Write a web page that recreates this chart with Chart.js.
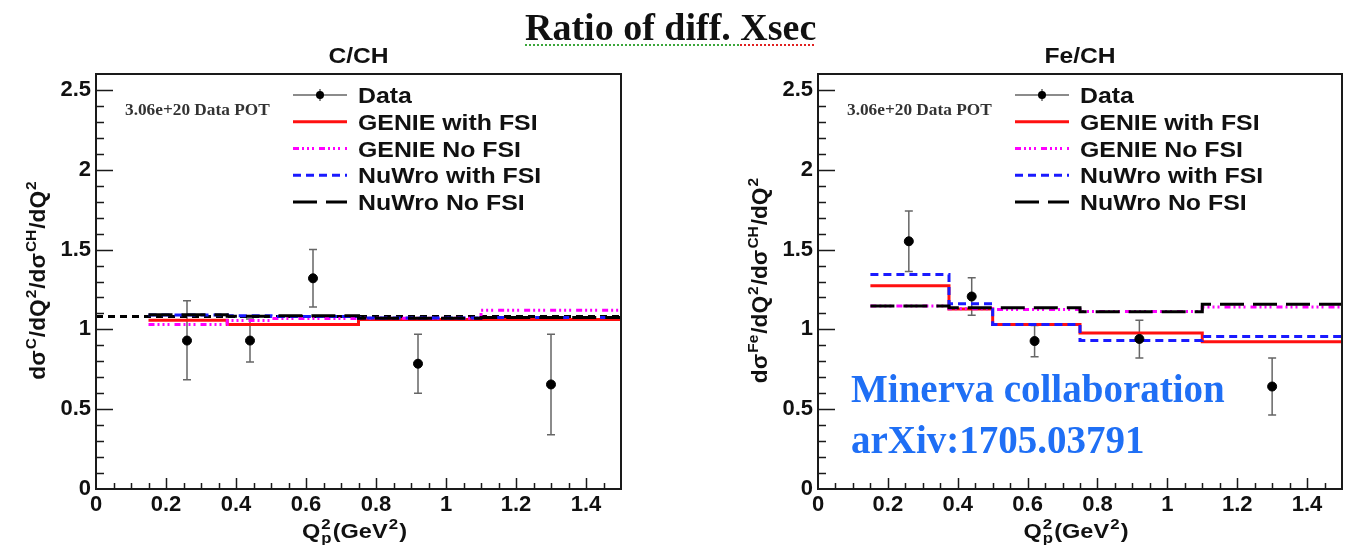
<!DOCTYPE html>
<html>
<head>
<meta charset="utf-8">
<script src="https://cdn.jsdelivr.net/npm/chart.js@4.4.0/dist/chart.umd.min.js"></script>
<style>
  html, body { margin: 0; padding: 0; background: #fff; width: 1359px; height: 545px; overflow: hidden; }
  #wrap { position: relative; width: 1359px; height: 545px; }
  canvas { position: absolute; top: 0; }
  #cC { left: 0; }
  #cFe { left: 680px; }
  #title {
    position: absolute; left: 525px; top: 8px; z-index: 2; white-space: nowrap;
    font: bold 38px/38px "Liberation Serif", "Times New Roman", serif; color: #111;
  }
  #title .g { text-decoration: underline dotted #3aa63a; text-decoration-thickness: 2px; text-underline-offset: 4px; }
  #title .r { text-decoration: underline dotted #e02020; text-decoration-thickness: 2px; text-underline-offset: 4px; }
</style>
</head>
<body>
<div id="wrap">
  <canvas id="cC" width="680" height="545"></canvas>
  <canvas id="cFe" width="679" height="545"></canvas>
  <div id="title"><span class="g">Ratio of diff. </span><span class="r">Xsec</span></div>
</div>
<script>
  const SANS = '"Liberation Sans", Arial, Helvetica, sans-serif';
  const SERIF = '"Liberation Serif", "Times New Roman", serif';

  // binning shared by both ratios (Q2 in GeV^2)
  const Q2_BIN_EDGES = [0.15, 0.375, 0.5, 0.75, 1.1, 1.5];
  const DATA_Q2 = [0.26, 0.44, 0.62, 0.92, 1.30];
  const SERIES_LABELS = ['Data', 'GENIE with FSI', 'GENIE No FSI', 'NuWro with FSI', 'NuWro No FSI'];

  // C/CH
  const cRatio = [0.93, 0.93, 1.32, 0.785, 0.655];
  const cErrLow = [0.685, 0.795, 1.14, 0.60, 0.34];
  const cErrHigh = [1.18, 1.065, 1.50, 0.97, 0.97];
  const cGenieFsi = [1.058, 1.03, 1.03, 1.062, 1.062];
  const cGenieNoFsi = [1.03, 1.055, 1.068, 1.07, 1.12];
  const cNuwroFsi = [1.09, 1.085, 1.08, 1.072, 1.075];
  const cNuwroNoFsi = [1.092, 1.082, 1.085, 1.07, 1.075];
  const cNormQ2 = [0, 1.5];
  const cNormRatio = [1.081, 1.081];

  // Fe/CH
  const feRatio = [1.552, 1.206, 0.927, 0.94, 0.642];
  const feErrLow = [1.362, 1.088, 0.829, 0.821, 0.463];
  const feErrHigh = [1.742, 1.323, 1.025, 1.058, 0.821];
  const feGenieFsi = [1.273, 1.127, 1.031, 0.978, 0.923];
  const feGenieNoFsi = [1.146, 1.13, 1.125, 1.112, 1.14];
  const feNuwroFsi = [1.344, 1.16, 1.031, 0.93, 0.956];
  const feNuwroNoFsi = [1.146, 1.136, 1.136, 1.11, 1.158];

  const POT_NOTE = '3.06e+20 Data POT';

  // histogram bins -> points for a stepped line (right edge repeats last bin)
  function stepPoints (vals) {
    const pts = vals.map((v, i) => ({ x: Q2_BIN_EDGES[i], y: v }));
    pts.push({ x: Q2_BIN_EDGES[Q2_BIN_EDGES.length - 1], y: vals[vals.length - 1] });
    return pts;
  }

  // text with a slight horizontal stretch, like the scanned plot
  function stretchText (ctx, str, x, y, font, align, sx) {
    ctx.save();
    ctx.font = font;
    const w = ctx.measureText(str).width * sx;
    const x0 = align === 'center' ? x - w / 2 : align === 'right' ? x - w : x;
    ctx.translate(x0, y);
    ctx.scale(sx, 1);
    ctx.textAlign = 'left';
    ctx.fillText(str, 0, 0);
    ctx.restore();
    return w;
  }

  // parts: strings, or {sup, sub} for raised / lowered small text
  function drawRich (ctx, parts, x, y, size, sx) {
    const big = `bold ${size}px ${SANS}`;
    const small = `bold ${Math.round(size * 0.7)}px ${SANS}`;
    const runs = [];
    let w = 0;
    parts.forEach(p => {
      if (typeof p === 'string') {
        ctx.font = big;
        runs.push({ t: p, f: big, x: w, dy: 0 });
        w += ctx.measureText(p).width;
      } else {
        ctx.font = small;
        let adv = 0;
        if (p.sup) { runs.push({ t: p.sup, f: small, x: w + 1, dy: -size * 0.42 }); adv = Math.max(adv, ctx.measureText(p.sup).width); }
        if (p.sub) { runs.push({ t: p.sub, f: small, x: w + 1, dy: size * 0.25 }); adv = Math.max(adv, ctx.measureText(p.sub).width); }
        w += adv + 2;
      }
    });
    ctx.save();
    ctx.translate(x - (w * sx) / 2, y);
    ctx.scale(sx, 1);
    ctx.textAlign = 'left';
    runs.forEach(r => { ctx.font = r.f; ctx.fillText(r.t, r.x, r.dy); });
    ctx.restore();
  }

  function panelPlugin (spec) {
    return {
      id: 'rootPanel',
      beforeDatasetsDraw (chart) {
        const { ctx, scales: { x, y } } = chart;
        chart.data.datasets.forEach(ds => {
          if (!ds.errLow) return;
          ctx.save();
          ctx.strokeStyle = '#666';
          ctx.lineWidth = 1.5;
          ctx.beginPath();
          ds.data.forEach((p, i) => {
            const px = x.getPixelForValue(p.x);
            const lo = y.getPixelForValue(ds.errLow[i]);
            const hi = y.getPixelForValue(ds.errHigh[i]);
            ctx.moveTo(px, lo); ctx.lineTo(px, hi);
            ctx.moveTo(px - 4, lo); ctx.lineTo(px + 4, lo);
            ctx.moveTo(px - 4, hi); ctx.lineTo(px + 4, hi);
          });
          ctx.stroke();
          ctx.restore();
        });
      },
      afterDraw (chart) {
        const { ctx, chartArea: a, scales: { x, y } } = chart;
        ctx.save();
        // frame + inward ticks (ROOT style)
        ctx.strokeStyle = '#1a1a1a';
        ctx.lineWidth = 2;
        ctx.strokeRect(a.left, a.top, a.right - a.left, a.bottom - a.top);
        ctx.lineWidth = 1.5;
        ctx.beginPath();
        for (let k = 1; k < 26; k++) {
          const py = Math.round(y.getPixelForValue(k / 10)) + 0.5;
          const len = k % 5 === 0 ? 17 : 8;
          ctx.moveTo(a.left, py); ctx.lineTo(a.left + len, py);
        }
        for (let k = 1; k < 30; k++) {
          const px = Math.round(x.getPixelForValue(k * 0.05)) + 0.5;
          const len = k % 4 === 0 ? 11 : 6;
          ctx.moveTo(px, a.bottom); ctx.lineTo(px, a.bottom - len);
        }
        ctx.stroke();

        ctx.fillStyle = '#111';
        ctx.textBaseline = 'alphabetic';
        const cx = (a.left + a.right) / 2;
        // panel title
        stretchText(ctx, spec.title, cx, 63, `bold 22px ${SANS}`, 'center', 1.12);
        // axis titles
        drawRich(ctx, ['Q', { sup: '2', sub: 'p' }, '(GeV', { sup: '2' }, ')'], cx - 4, 538, 21, 1.12);
        ctx.save();
        ctx.translate(a.left - 51, 280);
        ctx.rotate(-Math.PI / 2);
        drawRich(ctx, spec.yTitle, 0, 0, 22, 1.03);
        ctx.restore();

        // POT note
        ctx.fillStyle = '#333';
        stretchText(ctx, POT_NOTE, a.left + 29, a.top + 41, `bold 16px ${SERIF}`, 'left', 1.08);

        // legend
        const sx0 = a.left + 197, sx1 = a.left + 251, tx = a.left + 262;
        chart.data.datasets.filter(ds => ds.label).forEach((ds, i) => {
          const ry = a.top + 21 + i * 26.75;
          ctx.save();
          if (ds.errLow) {
            ctx.strokeStyle = '#666';
            ctx.lineWidth = 1.5;
            ctx.beginPath();
            ctx.moveTo(sx0, ry); ctx.lineTo(sx1, ry);
            ctx.moveTo((sx0 + sx1) / 2, ry - 6); ctx.lineTo((sx0 + sx1) / 2, ry + 6);
            ctx.stroke();
            ctx.fillStyle = '#000';
            ctx.beginPath();
            ctx.arc((sx0 + sx1) / 2, ry, 4, 0, Math.PI * 2);
            ctx.fill();
          } else {
            ctx.strokeStyle = ds.borderColor;
            ctx.lineWidth = ds.borderWidth;
            ctx.setLineDash(ds.borderDash || []);
            ctx.beginPath();
            ctx.moveTo(sx0, ry); ctx.lineTo(sx1, ry);
            ctx.stroke();
          }
          ctx.restore();
          ctx.fillStyle = '#111';
          stretchText(ctx, ds.label, tx, ry + 8, `bold 22px ${SANS}`, 'left', 1.13);
        });

        // extra notes
        (spec.notes || []).forEach(n => {
          ctx.fillStyle = n.color;
          stretchText(ctx, n.text, a.left + n.dx, a.top + n.dy, n.font, 'left', 1);
        });
        ctx.restore();
      }
    };
  }

  const fmt = v => String(parseFloat(Number(v).toFixed(2)));

  function makePanel (canvasId, spec) {
    const tickFont = { family: SANS, size: 22, weight: 'bold' };
    // 'before' in Chart.js: horizontal at the previous bin value, then vertical at the edge
    const histo = (label, vals, color, dash, order) => ({
      label, data: stepPoints(vals), borderColor: color, borderWidth: 3, borderDash: dash,
      stepped: 'before', pointRadius: 0, fill: false, order
    });
    const datasets = [
      {
        label: SERIES_LABELS[0],
        data: DATA_Q2.map((q, i) => ({ x: q, y: spec.ratio[i] })),
        errLow: spec.errLow, errHigh: spec.errHigh,
        showLine: false, pointRadius: 4.5, pointBackgroundColor: '#000', pointBorderColor: '#000', borderColor: '#000', order: 0
      },
      histo(SERIES_LABELS[1], spec.genieFsi, '#ff1010', [], 4),
      histo(SERIES_LABELS[2], spec.genieNoFsi, '#ff00ff', [6, 3, 2, 3, 2, 3, 2, 5], 3),
      histo(SERIES_LABELS[3], spec.nuwroFsi, '#1a1aff', [8, 5], 2),
      histo(SERIES_LABELS[4], spec.nuwroNoFsi, '#000', [24, 9], 1)
    ];
    if (spec.normQ2) {
      datasets.push({
        label: '', data: spec.normQ2.map((q, i) => ({ x: q, y: spec.normRatio[i] })),
        borderColor: '#000', borderWidth: 3, borderDash: [7, 5], pointRadius: 0, fill: false, order: 5
      });
    }

    return new Chart(document.getElementById(canvasId), {
      type: 'line',
      data: { datasets },
      options: {
        responsive: false,
        animation: false,
        devicePixelRatio: 1,
        layout: { padding: { top: 74, right: spec.padRight, bottom: 0, left: 0 } },
        plugins: { legend: { display: false }, tooltip: { enabled: false } },
        scales: {
          x: {
            type: 'linear', min: 0, max: 1.5,
            afterFit (s) { s.height = 56; },
            grid: { display: false, drawTicks: false },
            border: { display: false },
            ticks: { stepSize: 0.2, includeBounds: false, autoSkip: false, maxRotation: 0, padding: 3, color: '#111', font: tickFont, callback: fmt }
          },
          y: {
            type: 'linear', min: 0, max: 2.6,
            afterFit (s) { s.width = spec.axisWidth; },
            grid: { display: false, drawTicks: false },
            border: { display: false },
            ticks: { stepSize: 0.5, includeBounds: false, autoSkip: false, padding: 5, color: '#111', font: tickFont, callback: fmt }
          }
        }
      },
      plugins: [panelPlugin(spec)]
    });
  }

  makePanel('cC', {
    title: 'C/CH',
    yTitle: ['dσ', { sup: 'C' }, '/dQ', { sup: '2' }, '/dσ', { sup: 'CH' }, '/dQ', { sup: '2' }],
    ratio: cRatio, errLow: cErrLow, errHigh: cErrHigh,
    genieFsi: cGenieFsi, genieNoFsi: cGenieNoFsi, nuwroFsi: cNuwroFsi, nuwroNoFsi: cNuwroNoFsi,
    normQ2: cNormQ2, normRatio: cNormRatio,
    axisWidth: 96, padRight: 59
  });

  makePanel('cFe', {
    title: 'Fe/CH',
    yTitle: ['dσ', { sup: 'Fe' }, '/dQ', { sup: '2' }, '/dσ', { sup: 'CH' }, '/dQ', { sup: '2' }],
    ratio: feRatio, errLow: feErrLow, errHigh: feErrHigh,
    genieFsi: feGenieFsi, genieNoFsi: feGenieNoFsi, nuwroFsi: feNuwroFsi, nuwroNoFsi: feNuwroNoFsi,
    axisWidth: 138, padRight: 17,
    notes: [
      { text: 'Minerva collaboration', dx: 33, dy: 328, color: '#1f6ff5', font: `bold 39px ${SERIF}` },
      { text: 'arXiv:1705.03791', dx: 33, dy: 379, color: '#1f6ff5', font: `bold 39px ${SERIF}` }
    ]
  });
</script>
</body>
</html>
